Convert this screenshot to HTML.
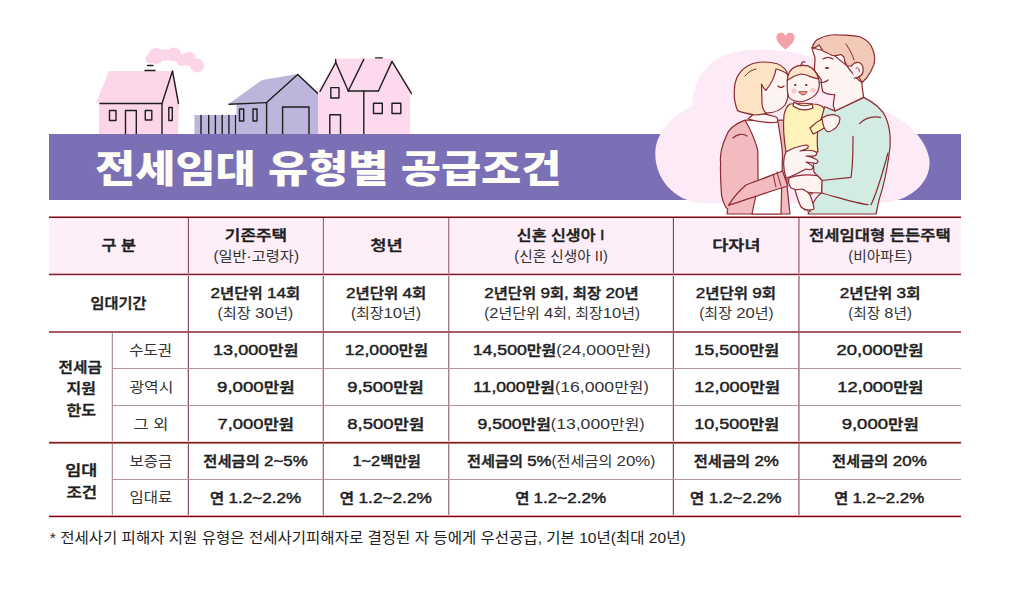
<!DOCTYPE html>
<html lang="ko">
<head>
<meta charset="utf-8">
<style>
*{margin:0;padding:0;box-sizing:border-box}
html,body{width:1029px;height:594px;overflow:hidden;background:#fff}
body{position:relative;font-family:"Liberation Sans","Noto Sans CJK KR",sans-serif;color:#231f20}
#art{position:absolute;left:0;top:0}
.title{position:absolute;left:95px;top:141px;font-family:"Liberation Sans","Noto Sans CJK KR",sans-serif;font-weight:900;font-size:38px;line-height:56px;color:#fefdf7;white-space:nowrap;letter-spacing:0px;transform:scaleX(1.15);transform-origin:0 50%}
.hd{position:absolute;left:49px;top:217px;width:912px;height:57px;background:#fdeef8}
.c{position:absolute;display:flex;flex-direction:column;align-items:center;justify-content:center;text-align:center;white-space:nowrap;font-size:14px;line-height:21px}
.n{font-size:15.5px}
.b{font-weight:500;color:#1e1e1e;-webkit-text-stroke:0.45px #1e1e1e}
.r{font-weight:400;color:#333}
.mx{white-space:nowrap}
.foot{position:absolute;left:51px;top:528px;font-size:15px;line-height:20px;color:#222;white-space:nowrap}
</style>
</head>
<body>
<svg id="art" width="1029" height="594" viewBox="0 0 1029 594">
  <!-- houses -->
  <g id="houses" stroke="#1e1e1e" stroke-width="1.4" stroke-linecap="round" stroke-linejoin="round" fill="none">
    <!-- smoke -->
    <g fill="#fcd5e8" stroke="none">
      <circle cx="156" cy="56" r="8"/>
      <circle cx="150" cy="59" r="4.5"/>
      <circle cx="165" cy="55" r="6"/>
      <circle cx="174" cy="54.5" r="7"/>
      <circle cx="182" cy="60" r="6"/>
      <circle cx="189" cy="59" r="7"/>
      <circle cx="197" cy="65.5" r="7"/>
    </g>
    <!-- house 1 -->
    <polygon points="96,103 109,71 172,71 179,103 178,134 99,134 99,103" fill="#fcd5e8" stroke="none"/>
    <line x1="100" y1="103.5" x2="162" y2="103.5"/>
    <polyline points="162,134 162,103.5 172.5,71 178.5,103.5"/>
    <rect x="109.5" y="110.5" width="6.5" height="10"/>
    <polyline points="125.5,134 125.5,110.5 136.3,110.5 136.3,134"/>
    <rect x="145.3" y="110.5" width="6.5" height="9.5"/>
    <rect x="168.8" y="107.5" width="3.5" height="13"/>
    <line x1="145" y1="70.5" x2="155" y2="70.5"/>
    <line x1="147.5" y1="65.5" x2="153" y2="65.5"/>
    <!-- fence -->
    <rect x="194.5" y="115" width="42" height="19" fill="#bdb6dc" stroke="none"/>
    <g>
      <line x1="201" y1="115.5" x2="201" y2="134"/><line x1="208.7" y1="115.5" x2="208.7" y2="134"/>
      <line x1="215.4" y1="115.5" x2="215.4" y2="134"/><line x1="222.2" y1="115.5" x2="222.2" y2="134"/>
      <line x1="228.9" y1="115.5" x2="228.9" y2="134"/><line x1="235.6" y1="115.5" x2="235.6" y2="134"/>
    </g>
    <!-- house 2 -->
    <polygon points="228.5,104 262,80 298,74 327,100.5 323,100.5 323,134 236.5,134 236.5,104" fill="#bcb5dc" stroke="none"/>
    <line x1="229" y1="104.3" x2="266.6" y2="102.6"/>
    <polyline points="266.6,134 266.6,102.6 297.7,74.5 325,100.3"/>
    <rect x="239.5" y="109" width="4.2" height="12"/>
    <rect x="253" y="109" width="4" height="12"/>
    <polyline points="282.6,134 282.6,107 309,107 309,134"/>
    <!-- house 3 -->
    <polygon points="318,91 336.5,58.5 391,58.5 412.5,93 410,93 410,134 318,134" fill="#fcd9ec" stroke="none"/>
    <polyline points="320,91.5 335.8,62.5 348.3,91"/>
    <line x1="335.6" y1="59.5" x2="335.8" y2="62.5"/>
    <line x1="348.3" y1="91" x2="363.8" y2="59.4"/>
    <line x1="348.3" y1="91" x2="378.4" y2="91"/>
    <polyline points="378.4,91 392,61.4 411.4,93.4"/>
    <line x1="363.8" y1="91" x2="363.8" y2="134"/>
    <rect x="330.8" y="87.6" width="8.2" height="10.4"/>
    <polyline points="329.8,134 329.8,114.8 340.5,114.8 340.5,134"/>
    <rect x="373.5" y="103.2" width="8.8" height="10.3"/>
    <rect x="392" y="103.2" width="8.8" height="10.3"/>
    <line x1="375.5" y1="57.9" x2="382.3" y2="57.9"/>
  </g>
  <!-- band -->
  <rect x="49" y="134" width="912" height="66" fill="#7b70b6"/>
  <!-- pink blob -->
  <path d="M700,203 C672,200 653,176 655.5,149 C658,130 674,114 692.5,106 C692,88 700,64 728,54 C758,45 800,50 830,64 C845,72 862,102 881,110 C902,117 926,136 929.5,160 C931,182 912,198 890,202 L870,204 Z" fill="#fcebf6"/>
  <!-- heart -->
  <path d="M785.5,49.5 C775,42 774.5,34.5 779.5,33 C782.5,32.2 784.8,33.8 785.5,36 C786.2,33.8 788.5,32.2 791.5,33 C796.5,34.5 796,42 785.5,49.5 Z" fill="#f2a3a9"/>
  <g id="family" stroke="#8b2a30" stroke-width="1.2" stroke-linecap="round" stroke-linejoin="round">
    <!-- man sweater -->
    <path d="M835,111 L863.7,97.4 C873,102 882,108 886,118 C891,130 891,145 889,155 C887,170 884,185 879,200 L876,214 L808,214 C812,205 816,196 821.6,193 L821.6,180.5 L814,172 L812,150 C814,135 820,120 824.7,106.8 C828,108 832,110 835,111 Z" fill="#d3ece3"/>
    <path d="M821.6,180.5 C835,179 845,178 851,177.4 C853,165 853,150 853,136.3" fill="none"/>
    <path d="M821.6,193 C840,198 855,203 868,204.7" fill="none"/>
    <path d="M888,153 C882,175 876,195 871,204.7" fill="none"/>
    <path d="M859.5,123.7 C865,118 873,116 880.5,117.4" fill="none"/>
    <!-- man face/neck -->
    <path d="M812,48 C813,53 815,56 815,58.3 L814.4,70.4 C817,74 819,77 821.2,79.5 C821,84 822,88 822.7,91.6 C826,94 830,95 834.8,94.7 C834,99 833.5,102 833.3,105.3 L835,111 L863.7,97.4 C863,93 862.5,89 862,85.6 L862,82.5 C855,78 850,70 847,65.9 L830,52 Z" fill="#fdf4f1"/>
    <!-- man hair -->
    <path d="M812,47.7 C814,42 817,39 819.7,38.6 C826,35 832,34.5 837.9,34.8 C848,35 855,35.5 860.6,37 C867,40 871,44 872.7,49.2 C875,55 875,60 874,64.4 C872,70 869,75 866.7,78 L862,82.5 C858,76 855,70 852,66 L847,65.9 C845,63 844,60 844,57 L841,54.5 C836,56 834,56 831.8,55.3 C828,53 825,52 822.7,50.7 C821,48 820,46 819,45 C817,47 815,48 812,47.7 Z" fill="#f2c9b6"/>
    <path d="M851.5,66 C855,61 862,61 863,68 C864,74 860,78 854,78" fill="#fdf4f1"/>
    <path d="M826,68 L828,68" stroke-width="1.8"/>
    <path d="M823,59 C826,57 830,57 833,59" fill="none"/>
    <path d="M819,82 C822,83 826,82 828,80" fill="none"/>
    <!-- woman cardigan -->
    <path d="M743.6,120.6 C735,124 728,130 726,136.5 C721,148 720,158 720.6,163 C720,175 721,185 721.5,194.8 C723,202 725,207 727.7,209 L727,214 L790,214 L787,186 L787,120 Z" fill="#f2bbbf"/>
    <!-- white shirt -->
    <path d="M745,120 L778,122 C780,135 782,145 782.5,154 L781,214 L752,214 L758,185 C758,170 758,160 757.7,150 C755,140 752,132 745,120 Z" fill="#ffffff"/>
    <!-- sleeve -->
    <path d="M746,185 C760,180 772,175 782.5,171 L787.8,186 C768,192 748,199 728.5,205.4 C733,198 740,190 746,185 Z" fill="#f2bbbf"/>
    <path d="M733,138 C737,134 743,133 747,136" fill="none"/>
    <!-- woman face -->
    <path d="M756,112 C760,113 770,115 776,117 C778,118 778,121 777,122 C770,124 760,122 748,119 Z" fill="#fdf4f1"/>
    <!-- woman hair -->
    <path d="M737.5,110.6 C735,104 734,98 734.3,92.9 C734,87 735,82 736.8,77.7 C740,71 744,68 748.2,65.7 C753,63 758,62 763.4,62 C768,62 773,62.5 777.2,63.8 C781,65 783,67 784.8,68.9 C786,70 787,72 787.3,73.9 L770,112 C765,114 760,115 755,115 C749,114 743,113 737.5,110.6 Z" fill="#fce4c4"/>
    <path d="M776,69 C780,70 785,72 787.3,74 C789,85 789,98 785,105 C781,110 774,113 766,113 C763,110 762,107 762,103 L761.5,84 C763,87 764,89 765.9,90.4 C771,84 775,76 776,69 Z" fill="#fdf4f1"/>
    <path d="M778,86 C780,88 782,88 784,86" fill="none"/>
    <!-- baby body -->
    <path d="M790,104 C798,103 806,103 813,104 C818,104 822,106 824,108 C823,115 820,122 818,128 C817,137 817,145 818,152 L786,152 C784,140 783,125 784,115 C785,110 787,106 790,104 Z" fill="#fdf2b9"/>
    <path d="M800,186 L812,186 L812,194 L800,194 Z" fill="#fdf2b9"/>
    <path d="M810,128 C814,124 818,121 822,119 L826,127 C822,129 818,132 813,134 Z" fill="#fdf2b9"/>
    <path d="M822,118 C828,114 836,113 840,118 C840,124 836,130 828,132 C825,131 823,128 822,118 Z" fill="#fdf4f1"/>
    <!-- baby collar -->
    <path d="M794,102 C800,106 806,107 812,104 L813,108 C806,111 799,110 793,106 Z" fill="#ffffff"/>
    <!-- baby head -->
    <path d="M787.3,80.3 C788,72 792,68 796,66.5 C800,65 804,65 808,66 C813,68 817,73 818.9,80 C819.5,84 819.5,86 818.9,88 C818,93 814,97 808.8,99.2 C805,101 801,102 798.7,101.7 C794,101 790,99 788.6,96.7 C787,92 787,86 787.3,80.3 Z" fill="#fdf4f1"/>
    <path d="M787.3,80.3 C788,72 792,68 796,66.5 C800,65 804,65 808,66 C813,68 817,73 818.5,79 C812,78 806,74 801,74 C796,75 792,77 789.5,79 Z" fill="#fbe3cc"/>
    <path d="M799,92 C801,96 805,96 807,92 Z" fill="#f0a090" stroke-width="0.8"/>
    <path d="M795,85 L795.5,85" stroke-width="2"/>
    <path d="M806,85 L806.5,85" stroke-width="2"/>
    <!-- details -->
    <circle cx="794" cy="91" r="2.6" fill="#f9c9c9" stroke="none"/>
    <circle cx="813" cy="90" r="2.6" fill="#f9c9c9" stroke="none"/>
    <path d="M801,66 C801,63 803,61 805,62" fill="none"/>
    <path d="M856,68 C858,67 860,69 859,72" fill="none" stroke-width="1"/>
    <path d="M777,172 L781,186 M773,174 L776,187" fill="none" stroke-width="1"/>
    <path d="M846,44 C850,50 853,56 854,60" fill="none" stroke-width="1"/>
    <path d="M745,76 C748,72 752,70 756,69" fill="none" stroke-width="1"/>
    <!-- woman hand -->
    <path d="M786,178 C783,168 783,158 786,152 C792,148 800,146 806,145 C809,145 809,148 806,149 L800,151 C806,150 813,150 816,152 C818,154 816,156 813,156 L806,156 C811,157 816,158 818,161 C818,163 816,164 813,163 L806,162 C810,164 813,166 813,168 C812,170 809,170 806,169 C800,172 794,176 786,178 Z" fill="#fdf4f1"/>
    <!-- man hand -->
    <path d="M789,178 C796,175 808,174 818,176 L822,180.5 L821.6,193 C812,193 800,192 791,188 C789,185 788,181 789,178 Z" fill="#fdf4f1"/>
    <!-- baby foot -->
    <path d="M795,190 C797,197 799,203 801,207 C804,210 810,211 814,209 C814,205 812,200 810,195 C808,192 805,190 802,189 Z" fill="#fdf4f1"/>
    <path d="M804,209 L805,211 M807,210 L808,212 M810,210 L811,212" fill="none" stroke-width="0.8"/>
  </g>
</svg>

<div class="title">전세임대 유형별 공급조건</div>

<!-- table -->
<div class="hd"></div>
<div style="position:absolute;left:188px;top:217px;width:1px;height:299px;background:#8c505a"></div>
<div style="position:absolute;left:187px;top:217px;width:1px;height:299px;background:#e8d6da"></div>
<div style="position:absolute;left:323px;top:217px;width:1px;height:299px;background:#a86870"></div>
<div style="position:absolute;left:322px;top:217px;width:1px;height:299px;background:#ead2d4"></div>
<div style="position:absolute;left:448px;top:217px;width:1px;height:299px;background:#a8808a"></div>
<div style="position:absolute;left:449px;top:217px;width:1px;height:299px;background:#dcc8cc"></div>
<div style="position:absolute;left:673px;top:217px;width:1px;height:299px;background:#8c4b5a"></div>
<div style="position:absolute;left:672px;top:217px;width:1px;height:299px;background:#e6d4d8"></div>
<div style="position:absolute;left:798px;top:217px;width:1px;height:299px;background:#b48a94"></div>
<div style="position:absolute;left:799px;top:217px;width:1px;height:299px;background:#c4a2aa"></div>
<div style="position:absolute;left:112px;top:332px;width:1px;height:184px;background:#b49496"></div>
<div style="position:absolute;left:111px;top:332px;width:1px;height:184px;background:#f4dce4"></div>
<div style="position:absolute;left:112px;top:368px;width:849px;height:1px;background:#b4939a"></div>
<div style="position:absolute;left:112px;top:405px;width:849px;height:1px;background:#b4939a"></div>
<div style="position:absolute;left:112px;top:479px;width:849px;height:1px;background:#b4939a"></div>
<div style="position:absolute;left:49px;top:216px;width:912px;height:1px;background:#c27c84"></div>
<div style="position:absolute;left:49px;top:217px;width:912px;height:1px;background:#7a0d17"></div>
<div style="position:absolute;left:49px;top:273px;width:912px;height:1px;background:#d8aab4"></div>
<div style="position:absolute;left:49px;top:274px;width:912px;height:1px;background:#7c1c2c"></div>
<div style="position:absolute;left:49px;top:275px;width:912px;height:1px;background:#e8cccf"></div>
<div style="position:absolute;left:49px;top:331px;width:912px;height:1px;background:#aa5a64"></div>
<div style="position:absolute;left:49px;top:332px;width:912px;height:1px;background:#aa5a64"></div>
<div style="position:absolute;left:49px;top:441px;width:912px;height:1px;background:#eed6d8"></div>
<div style="position:absolute;left:49px;top:442px;width:912px;height:1px;background:#7d1e23"></div>
<div style="position:absolute;left:49px;top:443px;width:912px;height:1px;background:#b47474"></div>
<div style="position:absolute;left:49px;top:515px;width:912px;height:1px;background:#dca2aa"></div>
<div style="position:absolute;left:49px;top:516px;width:912px;height:1px;background:#7d050a"></div>
<div style="position:absolute;left:49px;top:517px;width:912px;height:1px;background:#e8c8c8"></div>
<div class="c" style="left:49px;top:217px;width:139.5px;height:57px"><div class="b" id="L0" style="transform:translateX(-0.12px) scaleX(1.1625)">구 분</div></div>
<div class="c" style="left:188.5px;top:217px;width:135.0px;height:57px"><div class="b" id="L1" style="transform:translateX(0.20px) scaleX(1.2082)">기존주택</div><div class="r" id="L2" style="transform:translateX(-0.00px) scaleX(1.0921)">(일반·고령자)</div></div>
<div class="c" style="left:323.5px;top:217px;width:124.5px;height:57px"><div class="b" id="L3" style="transform:translateX(0.71px) scaleX(1.2652)">청년</div></div>
<div class="c" style="left:448px;top:217px;width:225.5px;height:57px"><div class="b" id="L4" style="transform:translateX(-0.39px) scaleX(1.1527)">신혼 신생아 I</div><div class="r" id="L5" style="transform:translateX(0.46px) scaleX(1.0471)">(신혼 신생아 II)</div></div>
<div class="c" style="left:673.5px;top:217px;width:125.5px;height:57px"><div class="b" id="L6" style="transform:translateX(0.06px) scaleX(1.2444)">다자녀</div></div>
<div class="c" style="left:799px;top:217px;width:162px;height:57px"><div class="b" id="L7" style="transform:translateX(-0.01px) scaleX(1.1846)">전세임대형 든든주택</div><div class="r" id="L8" style="transform:translateX(-0.20px) scaleX(1.0517)">(비아파트)</div></div>
<div class="c" style="left:49px;top:274px;width:139.5px;height:58px"><div class="b" id="L9" style="transform:translateX(-0.27px) scaleX(1.0860)">임대기간</div></div>
<div class="c" style="left:188.5px;top:274px;width:135.0px;height:58px;line-height:19px"><div class="b" id="L10" style="transform:translateX(-0.25px) scaleX(1.1038)"><span class="n">2</span>년단위 <span class="n">14</span>회</div><div class="r" id="L11" style="transform:translateX(-0.20px) scaleX(1.0939)">(최장 <span class="n">30</span>년)</div></div>
<div class="c" style="left:323.5px;top:274px;width:124.5px;height:58px;line-height:19px"><div class="b" id="L12" style="transform:translateX(0.83px) scaleX(1.1071)"><span class="n">2</span>년단위 <span class="n">4</span>회</div><div class="r" id="L13" style="transform:translateX(0.32px) scaleX(1.0730)">(최장<span class="n">10</span>년)</div></div>
<div class="c" style="left:448px;top:274px;width:225.5px;height:58px;line-height:19px"><div class="b" id="L14" style="transform:translateX(0.27px) scaleX(1.1014)"><span class="n">2</span>년단위 <span class="n">9</span>회, 최장 <span class="n">20</span>년</div><div class="r" id="L15" style="transform:translateX(1.32px) scaleX(1.0699)">(<span class="n">2</span>년단위 <span class="n">4</span>회, 최장<span class="n">10</span>년)</div></div>
<div class="c" style="left:673.5px;top:274px;width:125.5px;height:58px;line-height:19px"><div class="b" id="L16" style="transform:translateX(-0.42px) scaleX(1.1071)"><span class="n">2</span>년단위 <span class="n">9</span>회</div><div class="r" id="L17" style="transform:translateX(-0.12px) scaleX(1.0746)">(최장 <span class="n">20</span>년)</div></div>
<div class="c" style="left:799px;top:274px;width:162px;height:58px;line-height:19px"><div class="b" id="L18" style="transform:translateX(-0.20px) scaleX(1.1114)"><span class="n">2</span>년단위 <span class="n">3</span>회</div><div class="r" id="L19" style="transform:translateX(-0.20px) scaleX(1.0517)">(최장 <span class="n">8</span>년)</div></div>
<div class="c" style="left:49px;top:332px;width:63px;height:110.5px;line-height:21.5px;font-size:14px;padding-top:3px"><div class="b" id="L20" style="transform:translateX(-0.10px) scaleX(1.1243)">전세금</div><div class="b" id="L21" style="transform:translateX(0.27px) scaleX(1.1417)">지원</div><div class="b" id="L22" style="transform:translateX(0.30px) scaleX(1.1440)">한도</div></div>
<div class="c" style="left:49px;top:442.5px;width:63px;height:73.5px;line-height:22.2px;font-size:14px;padding-top:4px"><div class="b" id="L23" style="transform:translateX(0.32px) scaleX(1.2417)">임대</div><div class="b" id="L24" style="transform:translateX(0.89px) scaleX(1.1917)">조건</div></div>
<div class="c" style="left:112px;top:332px;width:76.5px;height:36.5px"><div class="r" id="L25" style="transform:translateX(0.33px) scaleX(1.1111)">수도권</div></div>
<div class="c" style="left:188.5px;top:332px;width:135.0px;height:36.5px"><div class="b" id="L26" style="transform:translateX(0.20px) scaleX(1.1686)"><span class="n">13,000</span>만원</div></div>
<div class="c" style="left:323.5px;top:332px;width:124.5px;height:36.5px"><div class="b" id="L27" style="transform:translateX(0.88px) scaleX(1.1394)"><span class="n">12,000</span>만원</div></div>
<div class="c" style="left:448px;top:332px;width:225.5px;height:36.5px"><div class="mx" id="L28" style="transform:translateX(0.79px) scaleX(1.1431)"><span class="b"><span class="n">14,500</span>만원</span><span class="r">(<span class="n">24,000</span>만원)</span></div></div>
<div class="c" style="left:673.5px;top:332px;width:125.5px;height:36.5px"><div class="b" id="L29" style="transform:translateX(0.16px) scaleX(1.1634)"><span class="n">15,500</span>만원</div></div>
<div class="c" style="left:799px;top:332px;width:162px;height:36.5px"><div class="b" id="L30" style="transform:translateX(0.45px) scaleX(1.1901)"><span class="n">20,000</span>만원</div></div>
<div class="c" style="left:112px;top:368.5px;width:76.5px;height:37.0px"><div class="r" id="L31" style="transform:translateX(1.03px) scaleX(1.1333)">광역시</div></div>
<div class="c" style="left:188.5px;top:368.5px;width:135.0px;height:37.0px"><div class="b" id="L32" style="transform:translateX(-0.40px) scaleX(1.2032)"><span class="n">9,000</span>만원</div></div>
<div class="c" style="left:323.5px;top:368.5px;width:124.5px;height:37.0px"><div class="b" id="L33" style="transform:translateX(0.25px) scaleX(1.1841)"><span class="n">9,500</span>만원</div></div>
<div class="c" style="left:448px;top:368.5px;width:225.5px;height:37.0px"><div class="mx" id="L34" style="transform:translateX(0.62px) scaleX(1.1362)"><span class="b"><span class="n">11,000</span>만원</span><span class="r">(<span class="n">16,000</span>만원)</span></div></div>
<div class="c" style="left:673.5px;top:368.5px;width:125.5px;height:37.0px"><div class="b" id="L35" style="transform:translateX(0.56px) scaleX(1.1746)"><span class="n">12,000</span>만원</div></div>
<div class="c" style="left:799px;top:368.5px;width:162px;height:37.0px"><div class="b" id="L36" style="transform:translateX(0.80px) scaleX(1.1800)"><span class="n">12,000</span>만원</div></div>
<div class="c" style="left:112px;top:405.5px;width:76.5px;height:37.0px"><div class="r" id="L37" style="transform:translateX(1.23px) scaleX(1.1778)">그 외</div></div>
<div class="c" style="left:188.5px;top:405.5px;width:135.0px;height:37.0px"><div class="b" id="L38" style="transform:translateX(-0.55px) scaleX(1.1823)"><span class="n">7,000</span>만원</div></div>
<div class="c" style="left:323.5px;top:405.5px;width:124.5px;height:37.0px"><div class="b" id="L39" style="transform:translateX(0.50px) scaleX(1.1921)"><span class="n">8,500</span>만원</div></div>
<div class="c" style="left:448px;top:405.5px;width:225.5px;height:37.0px"><div class="mx" id="L40" style="transform:translateX(0.48px) scaleX(1.1359)"><span class="b"><span class="n">9,500</span>만원</span><span class="r">(<span class="n">13,000</span>만원)</span></div></div>
<div class="c" style="left:673.5px;top:405.5px;width:125.5px;height:37.0px"><div class="b" id="L41" style="transform:translateX(0.16px) scaleX(1.1634)"><span class="n">10,500</span>만원</div></div>
<div class="c" style="left:799px;top:405.5px;width:162px;height:37.0px"><div class="b" id="L42" style="transform:translateX(-0.05px) scaleX(1.1952)"><span class="n">9,000</span>만원</div></div>
<div class="c" style="left:112px;top:442.5px;width:76.5px;height:37.0px"><div class="r" id="L43" style="transform:translateX(0.47px) scaleX(1.1027)">보증금</div></div>
<div class="c" style="left:188.5px;top:442.5px;width:135.0px;height:37.0px"><div class="b" id="L44" style="transform:translateX(-0.15px) scaleX(1.0947)">전세금의 <span class="n">2~5%</span></div></div>
<div class="c" style="left:323.5px;top:442.5px;width:124.5px;height:37.0px"><div class="b" id="L45" style="transform:translateX(1.21px) scaleX(1.0540)"><span class="n">1~2</span>백만원</div></div>
<div class="c" style="left:448px;top:442.5px;width:225.5px;height:37.0px"><div class="mx" id="L46" style="transform:translateX(0.37px) scaleX(1.0848)"><span class="b">전세금의 <span class="n">5%</span></span><span class="r">(전세금의 <span class="n">20%</span>)</span></div></div>
<div class="c" style="left:673.5px;top:442.5px;width:125.5px;height:37.0px"><div class="b" id="L47" style="transform:translateX(0.42px) scaleX(1.0947)">전세금의 <span class="n">2%</span></div></div>
<div class="c" style="left:799px;top:442.5px;width:162px;height:37.0px"><div class="b" id="L48" style="transform:translateX(-0.85px) scaleX(1.0965)">전세금의 <span class="n">20%</span></div></div>
<div class="c" style="left:112px;top:479.5px;width:76.5px;height:36.5px"><div class="r" id="L49" style="transform:translateX(0.47px) scaleX(1.1027)">임대료</div></div>
<div class="c" style="left:188.5px;top:479.5px;width:135.0px;height:36.5px"><div class="b" id="L50" style="transform:translateX(-0.75px) scaleX(1.1012)">연 <span class="n">1.2~2.2%</span></div></div>
<div class="c" style="left:323.5px;top:479.5px;width:124.5px;height:36.5px"><div class="b" id="L51" style="transform:translateX(0.48px) scaleX(1.1123)">연 <span class="n">1.2~2.2%</span></div></div>
<div class="c" style="left:448px;top:479.5px;width:225.5px;height:36.5px"><div class="b" id="L52" style="transform:translateX(0.33px) scaleX(1.1012)">연 <span class="n">1.2~2.2%</span></div></div>
<div class="c" style="left:673.5px;top:479.5px;width:125.5px;height:36.5px"><div class="b" id="L53" style="transform:translateX(-0.53px) scaleX(1.1062)">연 <span class="n">1.2~2.2%</span></div></div>
<div class="c" style="left:799px;top:479.5px;width:162px;height:36.5px"><div class="b" id="L54" style="transform:translateX(-1.14px) scaleX(1.0889)">연 <span class="n">1.2~2.2%</span></div></div>
<div class="foot" id="foot" style="transform:translateX(9.70px) scaleX(1.0356)">* 전세사기 피해자 지원 유형은 전세사기피해자로 결정된 자 등에게 우선공급, 기본 10년(최대 20년)</div>
</body>
</html>
